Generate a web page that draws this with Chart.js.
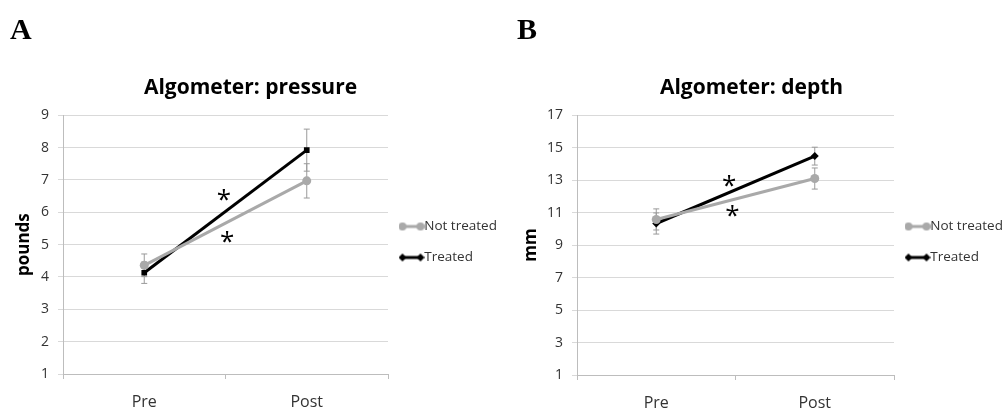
<!DOCTYPE html>
<html>
<head>
<meta charset="utf-8">
<script src="https://cdn.jsdelivr.net/npm/chart.js@4/dist/chart.umd.min.js"></script>
<style>
body { margin: 0; background: #fff; width: 1002px; height: 408px; overflow: hidden; position: relative; }
.panel { position: absolute; top: 0; width: 501px; height: 408px; }
.tag { position: absolute; top: 12px; font: bold 30px "Liberation Serif", serif; color: #000; }
</style>
</head>
<body>
<div class="panel" style="left:0"><canvas id="chartA" width="501" height="408"></canvas><div class="tag" style="left:10px">A</div></div>
<div class="panel" style="left:501px"><canvas id="chartB" width="501" height="408"></canvas><div class="tag" style="left:16px">B</div></div>
<script>
// data
var phases = ["Pre", "Post"];
var seriesNames = ["Not treated", "Treated"];

var pressureNotTreated = [4.36, 6.97];
var pressureTreated = [4.13, 7.92];
var pressureNotTreatedErr = [0.35, 0.53];
var pressureTreatedErr = [0.33, 0.65];
var pressureStarX = [0.49, 0.51];
var pressureStarY = [6.36, 5.06];

var depthNotTreated = [10.58, 13.1];
var depthTreated = [10.33, 14.48];
var depthNotTreatedErr = [0.65, 0.65];
var depthTreatedErr = [0.65, 0.55];
var depthStarX = [0.46, 0.48];
var depthStarY = [12.58, 10.78];

var FONT = "'Open Sans', sans-serif";
var GREY = '#a9a9a9';

function legendIcon(color, shape) {
  var c = document.createElement('canvas');
  c.width = 26; c.height = 12;
  var g = c.getContext('2d');
  g.strokeStyle = color; g.fillStyle = color; g.lineWidth = 3;
  g.beginPath(); g.moveTo(4, 6); g.lineTo(22, 6); g.stroke();
  [4, 22].forEach(function(x) {
    g.beginPath();
    if (shape == 'circle') g.arc(x, 6, 4, 0, Math.PI * 2);
    else { g.moveTo(x, 2); g.lineTo(x + 4, 6); g.lineTo(x, 10); g.lineTo(x - 4, 6); g.closePath(); }
    g.fill();
  });
  return c;
}
var icons = [legendIcon(GREY, 'circle'), legendIcon('#000', 'diamond')];

// error bars + asterisks, placed through the chart scales
var extras = {
  id: 'extras',
  beforeDatasetsDraw: function(chart) {
    var ctx = chart.ctx, y = chart.scales.y;
    ctx.save();
    ctx.strokeStyle = '#9a9a9a';
    ctx.lineWidth = 1;
    chart.data.datasets.forEach(function(ds, i) {
      var meta = chart.getDatasetMeta(i);
      ds.errors.forEach(function(e, j) {
        var x = meta.data[j].x;
        var top = y.getPixelForValue(ds.data[j] + e), bot = y.getPixelForValue(ds.data[j] - e);
        ctx.beginPath();
        ctx.moveTo(x, top); ctx.lineTo(x, bot);
        ctx.moveTo(x - 3, top); ctx.lineTo(x + 3, top);
        ctx.moveTo(x - 3, bot); ctx.lineTo(x + 3, bot);
        ctx.stroke();
      });
    });
    ctx.restore();
  },
  afterDatasetsDraw: function(chart, args, opts) {
    var ctx = chart.ctx;
    ctx.save();
    ctx.fillStyle = '#000';
    ctx.font = '26px ' + FONT;
    ctx.textAlign = 'center';
    ctx.textBaseline = 'middle';
    opts.x.forEach(function(v, k) {
      ctx.fillText('*', chart.scales.x.getPixelForValue(v), chart.scales.y.getPixelForValue(opts.y[k]));
    });
    ctx.restore();
  }
};

function makeChart(id, title, yTitle, notTreated, treated, errN, errT, yMin, yMax, step, yWidth, xHeight, treatedShape, starX, starY, legendW, yTitlePad) {
  return new Chart(document.getElementById(id), {
    type: 'line',
    data: {
      labels: phases,
      datasets: [{
        label: seriesNames[0],
        data: notTreated,
        errors: errN,
        borderColor: GREY,
        backgroundColor: GREY,
        borderWidth: 3,
        pointStyle: 'circle',
        pointRadius: 4.5,
        pointBorderWidth: 0
      }, {
        label: seriesNames[1],
        data: treated,
        errors: errT,
        borderColor: '#000',
        backgroundColor: '#000',
        borderWidth: 3,
        pointStyle: treatedShape,
        pointRadius: 4,
        pointBorderWidth: 0
      }]
    },
    plugins: [extras],
    options: {
      responsive: false,
      animation: false,
      layout: { padding: 0 },
      plugins: {
        extras: { x: starX, y: starY },
        tooltip: { enabled: false },
        title: {
          display: true,
          text: title,
          color: '#000',
          font: { family: FONT, size: 21, weight: 'bold' },
          padding: { top: 75, bottom: 15 }
        },
        legend: {
          position: 'right',
          maxWidth: legendW,
          title: { display: true, text: '', font: { size: 10 }, padding: { top: 64, bottom: 0 } },
          labels: {
            usePointStyle: true,
            boxWidth: 12,
            boxHeight: 13,
            padding: 17.5,
            color: '#333',
            font: { family: FONT, size: 13.5 },
            generateLabels: function(chart) {
              var items = Chart.defaults.plugins.legend.labels.generateLabels(chart);
              items.forEach(function(it, i) { it.pointStyle = icons[i]; });
              return items;
            }
          }
        }
      },
      scales: {
        x: {
          offset: true,
          afterFit: function(s) { s.height = xHeight; },
          grid: { offset: true, drawOnChartArea: false, drawTicks: true, tickLength: 5, color: '#bdbdbd' },
          border: { color: '#bdbdbd' },
          ticks: { padding: 14, color: '#333', font: { family: FONT, size: 16 } }
        },
        y: {
          min: yMin,
          max: yMax,
          afterFit: function(s) { s.width = yWidth; },
          title: {
            display: true,
            text: yTitle,
            color: '#000',
            padding: { top: yTitlePad, bottom: 0 },
            font: { family: FONT, size: 17, weight: 'bold' }
          },
          grid: { color: '#d9d9d9', tickLength: 5 },
          border: { color: '#bdbdbd' },
          ticks: { stepSize: step, padding: 9, color: '#333', font: { family: FONT, size: 14 } }
        }
      }
    }
  });
}

makeChart('chartA', 'Algometer: pressure', 'pounds', pressureNotTreated, pressureTreated,
  pressureNotTreatedErr, pressureTreatedErr, 1, 9, 1, 63, 34, 'rect', pressureStarX, pressureStarY, 113, 14);
makeChart('chartB', 'Algometer: depth', 'mm', depthNotTreated, depthTreated,
  depthNotTreatedErr, depthTreatedErr, 1, 17, 2, 76, 33, 'rectRot', depthStarX, depthStarY, 108, 20);
</script>
</body>
</html>
